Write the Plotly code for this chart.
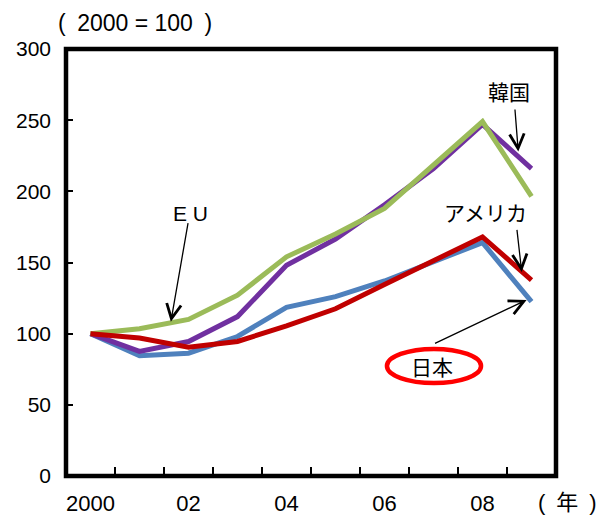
import plotly.graph_objects as go

# Index values (2000 = 100)
years = list(range(2000, 2010))
japan = [100, 84.5, 86.3, 98, 118.5, 126, 137, 150.5, 164, 122.5]
usa = [100, 97, 90.5, 94.5, 105.5, 117.5, 134.5, 151, 168, 137.7]
eu = [100, 103.5, 110, 127, 154, 170, 188, 219, 249, 196.5]
korea = [100, 87.5, 94.5, 112, 148, 166.5, 190.5, 216, 247, 216]

tick_years = [2000, 2002, 2004, 2006, 2008]
tick_text = ["2000", "02", "04", "06", "08"]
y_ticks = [0, 50, 100, 150, 200, 250, 300]

FONT = "Liberation Sans, Arial, Noto Sans CJK JP, sans-serif"
EN = "\u2002"
LW = 5

fig = go.Figure()
series = [
    ("日本", japan, "#4F81BD"),
    ("韓国", korea, "#7030A0"),
    ("EU", eu, "#9BBB59"),
    ("アメリカ", usa, "#C00000"),
]
for name, vals, color in series:
    fig.add_trace(go.Scatter(x=years, y=vals, mode="lines", name=name,
                             line=dict(color=color, width=LW)))

fig.update_layout(
    width=616, height=517,
    margin=dict(l=66, r=60, t=49, b=41),
    paper_bgcolor="white", plot_bgcolor="white",
    showlegend=False,
    font=dict(family=FONT, size=21, color="black"),
)

fig.update_xaxes(
    range=[1999.5, 2009.5], automargin=False,
    tickmode="array", tickvals=tick_years, ticktext=tick_text,
    tickfont=dict(size=22),
    ticks="", ticklabelstandoff=12,
    showgrid=False, zeroline=False, showline=False,
    minor=dict(tickmode="array",
               tickvals=[y + 0.5 for y in years[:-1]],
               ticks="inside", ticklen=9, tickwidth=1.8, tickcolor="black",
               showgrid=False),
)
fig.update_yaxes(
    range=[0, 300], automargin=False,
    tickmode="array", tickvals=y_ticks,
    ticks="inside", ticklen=7, tickwidth=1.8, tickcolor="black",
    ticklabelstandoff=14,
    showgrid=False, zeroline=False, showline=False,
)

# plot frame
fig.add_shape(type="rect", xref="paper", yref="paper", x0=0, x1=1, y0=0, y1=1,
              line=dict(color="black", width=4.5), fillcolor="rgba(0,0,0,0)",
              layer="above")


def label(text, x, y):
    fig.add_annotation(x=x, y=y, xref="x", yref="y", text=text, showarrow=False,
                       font=dict(family=FONT, size=21, color="black"),
                       xanchor="center", yanchor="middle")


def arrow(tail, head):
    fig.add_annotation(x=head[0], y=head[1], ax=tail[0], ay=tail[1],
                       xref="x", yref="y", axref="x", ayref="y",
                       text="", showarrow=True, arrowhead=5, arrowsize=2.2,
                       arrowwidth=1.3, arrowcolor="black", standoff=0,
                       startstandoff=0)


label("韓国", 2008.54, 269.1)
arrow((2008.66, 258.6), (2008.73, 227.9))

label("アメリカ", 2008.07, 184.4)
arrow((2008.70, 174.0), (2008.80, 143.4))

label("E U", 2002.04, 184.4)
arrow((2001.996, 178.7), (2001.64, 108.4))

label("日本", 2006.97, 75.9)
arrow((2007.00, 92.7), (2008.90, 123.7))
fig.add_shape(type="circle", xref="x", yref="y",
              x0=2006.05, x1=2007.97, y0=65.3, y1=89.3,
              line=dict(color="#FF0000", width=4.5), fillcolor="rgba(0,0,0,0)")

fig.add_annotation(xref="paper", yref="paper", x=0.141, y=1.061,
                   text="(" + EN + "2000 = 100" + EN + ")", showarrow=False,
                   font=dict(family=FONT, size=23, color="black"),
                   xanchor="center", yanchor="middle")
fig.add_annotation(xref="paper", yref="paper", x=1.0235, y=-0.0609,
                   text="(" + EN + "年" + EN + ")", showarrow=False,
                   font=dict(family=FONT, size=22, color="black"),
                   xanchor="center", yanchor="middle")

fig.write_html("out.html")
